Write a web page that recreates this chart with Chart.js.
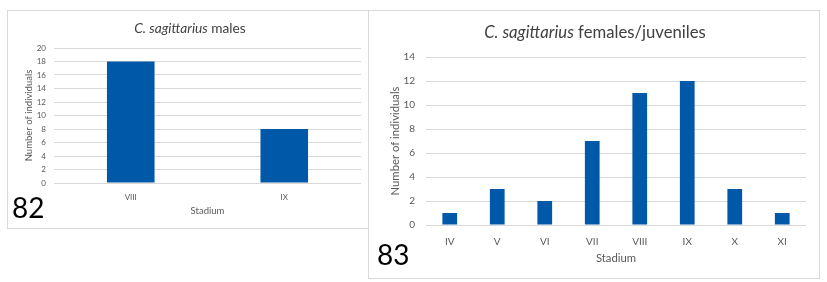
<!DOCTYPE html>
<html>
<head>
<meta charset="utf-8">
<script src="https://cdn.jsdelivr.net/npm/chart.js@4"></script>
<style>
  body { margin: 0; background: #fff; width: 827px; height: 282px; position: relative; overflow: hidden; font-family: Lato, "Open Sans", sans-serif; }
  .box { position: absolute; box-sizing: border-box; border: 1px solid #d9d9d9; background: #fff; }
  canvas { position: absolute; }
  .title { position: absolute; color: #404040; white-space: nowrap; transform: translate(-50%, -50%); }
  .num { position: absolute; color: #000; font-size: 28px; line-height: 1; }
</style>
</head>
<body>
<div class="box" style="left:7px; top:10px; width:363px; height:219px;"></div>
<canvas id="male-chart" width="358" height="217" style="left:8px; top:11px;"></canvas>
<div class="title" style="left:190px; top:27px; font-size:13.7px;"><i>C. sagittarius</i> males</div>
<div class="num" style="left:12px; top:193px;">82</div>

<div class="box" style="left:368px; top:10px; width:452px; height:269px;"></div>
<canvas id="female-chart" width="450" height="267" style="left:369px; top:11px;"></canvas>
<div class="title" style="left:595px; top:32px; font-size:16.7px;"><i>C. sagittarius</i> females/juveniles</div>
<div class="num" style="left:377px; top:240px;">83</div>

<script>
// Data
const maleStages = ['VIII', 'IX'];
const maleCounts = [18, 8];
const femaleStages = ['IV', 'V', 'VI', 'VII', 'VIII', 'IX', 'X', 'XI'];
const femaleCounts = [1, 3, 2, 7, 11, 12, 3, 1];

const barColor = '#0058a8';
const gridColor = '#d9d9d9';
const textColor = '#595959';

// Build one bar chart
function makeChart(id, labels, values, yMax, s) {
  const ctx = document.getElementById(id).getContext('2d');
  return new Chart(ctx, {
    type: 'bar',
    data: {
      labels: labels,
      datasets: [
        {
          data: values,
          backgroundColor: barColor,
          categoryPercentage: 1,
          barPercentage: 0.31,
        },
      ],
    },
    options: {
      responsive: false,
      animation: false,
      layout: { padding: { left: 0, right: s.padRight, top: s.padTop, bottom: 0 } },
      plugins: { legend: { display: false }, tooltip: { enabled: false } },
      scales: {
        x: {
          grid: { display: false, drawTicks: false },
          border: { display: false },
          ticks: { color: textColor, font: { family: 'Lato', size: s.tick }, padding: s.xTickPad },
          title: {
            display: true,
            text: 'Stadium',
            color: textColor,
            font: { family: 'Lato', size: s.axis },
            padding: { top: 0, bottom: s.xTitlePad },
          },
          afterFit: (scale) => { scale.height = s.xHeight; },
        },
        y: {
          min: 0,
          max: yMax,
          grid: { color: gridColor, drawTicks: false },
          border: { display: false },
          ticks: { stepSize: 2, color: textColor, font: { family: 'Lato', size: s.tick }, padding: s.yTickPad },
          title: {
            display: true,
            text: 'Number of individuals',
            color: textColor,
            font: { family: 'Lato', size: s.axis },
            padding: { top: s.yTitlePad, bottom: 0 },
          },
          afterFit: (scale) => { scale.width = s.yWidth; },
        },
      },
    },
  });
}

// Males
makeChart('male-chart', maleStages, maleCounts, 20, {
  padRight: 5, padTop: 37, xHeight: 45, yWidth: 46,
  tick: 8, axis: 9.5, xTickPad: 10, yTickPad: 8, xTitlePad: 11.3, yTitlePad: 15.3,
});

// Females / juveniles
makeChart('female-chart', femaleStages, femaleCounts, 14, {
  padRight: 13, padTop: 46, xHeight: 53, yWidth: 57,
  tick: 10, axis: 11.3, xTickPad: 11, yTickPad: 11, xTitlePad: 13.2, yTitlePad: 19.2,
});
</script>
</body>
</html>
